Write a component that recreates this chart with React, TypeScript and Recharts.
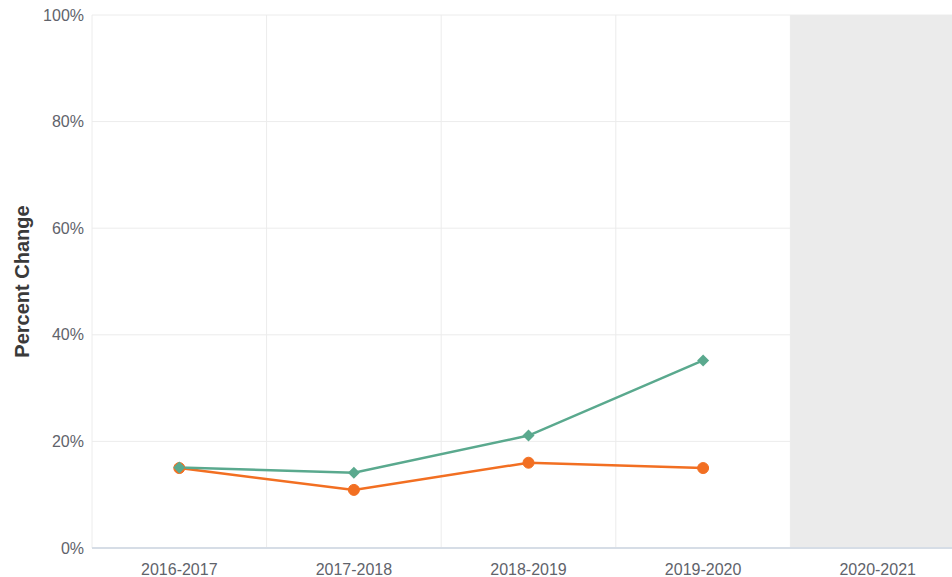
import { LineChart, Line, XAxis, YAxis, CartesianGrid, ReferenceArea } from "recharts"

const years = ["2016-2017", "2017-2018", "2018-2019", "2019-2020", "2020-2021"]
const greenValues = [15.1, 14.1, 21.1, 35.2, null]
const orangeValues = [15.0, 10.9, 16.0, 15.0, null]
const yTicks = [0, 20, 40, 60, 80, 100]

const data = years.map((year, i) => ({
  year,
  green: greenValues[i],
  orange: orangeValues[i],
}))

const FONT = "'Liberation Sans', Arial, sans-serif"
const GREEN = "#5aa98e"
const ORANGE = "#f26f22"

function Diamond(props: any) {
  const { cx, cy, index } = props
  if (cx == null || cy == null) return <g key={index} />
  const s = 6
  return (
    <path
      key={index}
      d={`M${cx},${cy - s} L${cx + s},${cy} L${cx},${cy + s} L${cx - s},${cy} Z`}
      fill={GREEN}
    />
  )
}

function YLabel(props: any) {
  const vb = props.viewBox || {}
  const x = (vb.x ?? 0) + 22
  const y = (vb.y ?? 0) + (vb.height ?? 0) / 2
  return (
    <text
      x={x}
      y={y}
      transform={`rotate(-90, ${x}, ${y})`}
      textAnchor="middle"
      dominantBaseline="central"
      fontFamily={FONT}
      fontWeight="bold"
      fontSize={20}
      fill="#3a3a3a"
    >
      Percent Change
    </text>
  )
}

export default function App() {
  return (
    <div
      style={{
        position: "absolute",
        left: 0,
        top: 0,
        width: 952,
        height: 577,
        overflow: "hidden",
        background: "#fff",
      }}
    >
      <LineChart
        width={965}
        height={590}
        data={data}
        margin={{ top: 15, right: 0, bottom: 0, left: 0 }}
      >
        <CartesianGrid
          stroke="#ececec"
          verticalCoordinatesGenerator={({ offset }: any) =>
            years.map((_, i) => offset.left + (i * offset.width) / years.length)
          }
        />
        <ReferenceArea
          x1="2020-2021"
          x2="2020-2021"
          fill="#ebebeb"
          fillOpacity={1}
          stroke="none"
        />
        <XAxis
          dataKey="year"
          scale="band"
          height={42}
          tickLine={false}
          tickMargin={10}
          axisLine={{ stroke: "#d6dde6", strokeWidth: 2 }}
          tick={{ fill: "#5f636b", fontSize: 16, fontFamily: FONT }}
        />
        <YAxis
          width={92}
          domain={[0, 100]}
          ticks={yTicks}
          tickFormatter={(v) => `${v}%`}
          axisLine={false}
          tickLine={false}
          tick={{ fill: "#5f636b", fontSize: 16, fontFamily: FONT }}
          label={<YLabel />}
        />
        <Line
          dataKey="orange"
          stroke={ORANGE}
          strokeWidth={2.5}
          dot={{ r: 5.5, fill: ORANGE, stroke: ORANGE, strokeWidth: 1 }}
          activeDot={false}
          isAnimationActive={false}
        />
        <Line
          dataKey="green"
          stroke={GREEN}
          strokeWidth={2.5}
          dot={<Diamond />}
          activeDot={false}
          isAnimationActive={false}
        />
      </LineChart>
    </div>
  )
}
